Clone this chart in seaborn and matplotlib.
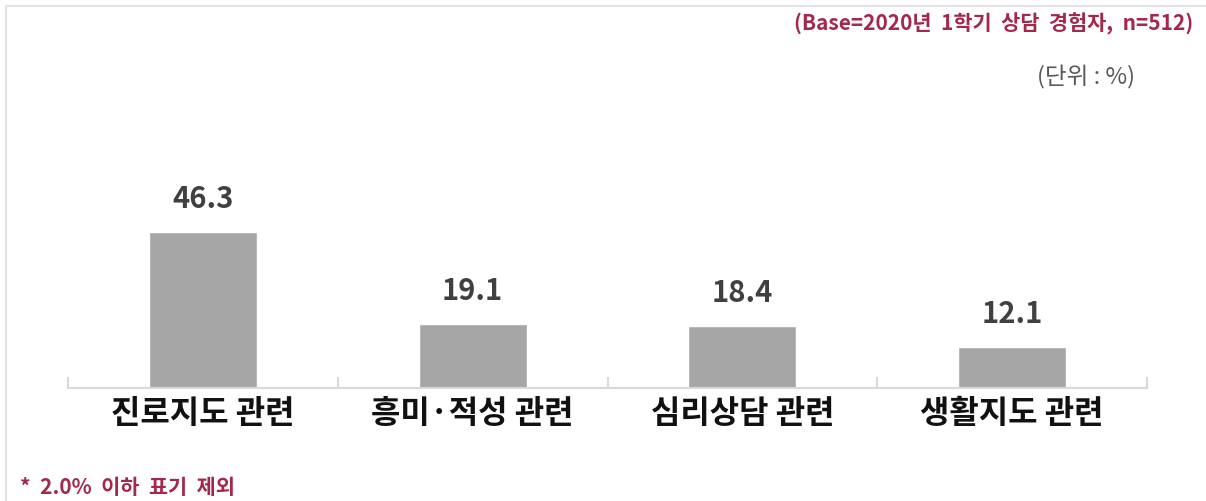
import matplotlib
matplotlib.use("Agg")
import matplotlib.pyplot as plt
import seaborn as sns
import pandas as pd
from matplotlib.lines import Line2D
from matplotlib.ticker import FixedLocator

categories = ["진로지도 관련", "흥미·적성 관련", "심리상담 관련", "생활지도 관련"]
values = [46.3, 19.1, 18.4, 12.1]
base_note = "(Base=2020년 1학기 상담 경험자, n=512)"
unit_note = "(단위 : %)"
foot_note = "* 2.0% 이하 표기 제외"

sns.set_theme(style="white")
plt.rcParams["font.family"] = ["Noto Sans CJK KR", "DejaVu Sans"]

df = pd.DataFrame({"category": categories, "value": values})

fig = plt.figure(figsize=(12.06, 5.01), dpi=100)
ax = fig.add_axes([68 / 1206, 1 - 388 / 501, (1147 - 68) / 1206, (388 - 186) / 501])

sns.barplot(data=df, x="category", y="value", color="#a6a6a6", saturation=1,
            width=0.4, ax=ax)

ax.set_xlim(-0.5, 3.5)
ax.set_ylim(0, 60)
ax.set_xlabel("")
ax.set_ylabel("")
ax.set_yticks([])
for s in ["top", "right", "left"]:
    ax.spines[s].set_visible(False)
ax.spines["bottom"].set_color("#d9d9d9")
ax.spines["bottom"].set_linewidth(1.5)

ax.xaxis.set_minor_locator(FixedLocator([-0.5, 0.5, 1.5, 2.5, 3.5]))
ax.tick_params(axis="x", which="major", length=0, pad=7, labelsize=23,
               labelcolor="#111111")
ax.tick_params(axis="x", which="minor", direction="in", length=8,
               width=1.5, color="#d9d9d9", bottom=True)
for lab in ax.get_xticklabels():
    lab.set_fontweight("bold")

for cont in ax.containers:
    ax.bar_label(cont, fmt="%.1f", padding=13, fontsize=21,
                 fontweight="bold", color="#404040")

fig.text(1193 / 1206, 1 - 24 / 501, base_note.replace(" ", "  "), ha="right",
         va="center", fontsize=15, fontweight="bold", color="#a3284a")
fig.text(1135 / 1206, 1 - 77 / 501, unit_note, ha="right", va="center",
         fontsize=17, color="#595959")
fig.text(20 / 1206, 1 - 487 / 501, foot_note.replace(" ", "  "), ha="left",
         va="center", fontsize=15, fontweight="bold", color="#a3284a")

# light frame lines on top and left
fig.add_artist(Line2D([6 / 1206, 1], [1 - 6 / 501, 1 - 6 / 501],
                      transform=fig.transFigure, color="#e3e3e3", lw=1.5))
fig.add_artist(Line2D([6 / 1206, 6 / 1206], [0, 1 - 6 / 501],
                      transform=fig.transFigure, color="#e3e3e3", lw=1.5))

fig.savefig("out.png", dpi=100)
